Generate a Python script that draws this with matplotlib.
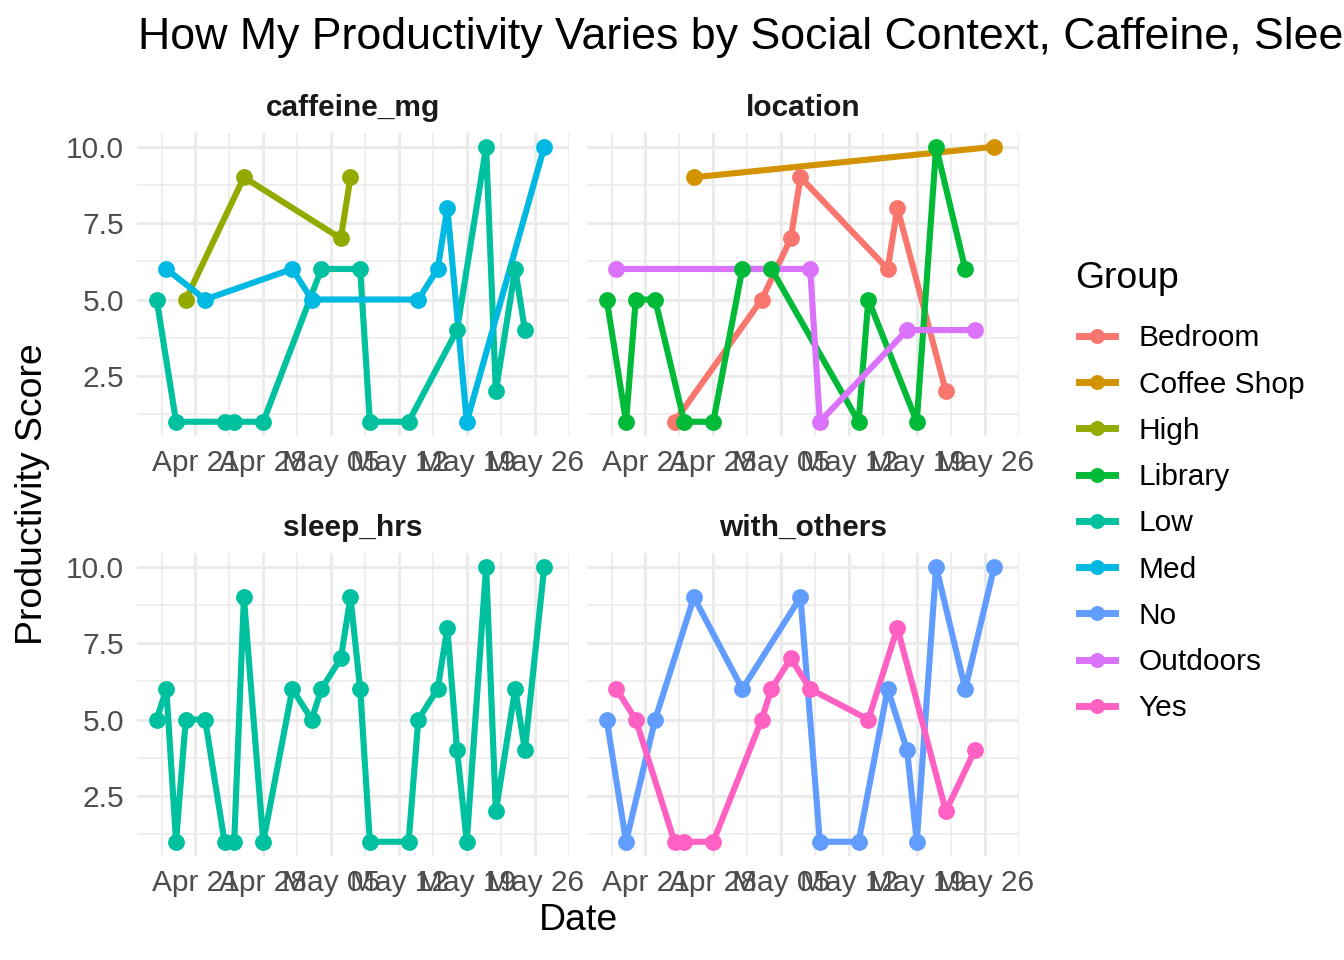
import numpy as np
import pandas as pd
import matplotlib
matplotlib.use("Agg")
import matplotlib.pyplot as plt
import matplotlib.dates as mdates
from matplotlib.lines import Line2D

plt.rcParams['font.family'] = ['Liberation Sans', 'DejaVu Sans']

# day offsets from Apr 17 and the score for each logged day
day_offset = [0, 1, 2, 3, 5, 7, 8, 9, 11, 14, 16, 17, 19, 20, 21, 22, 26, 27, 29, 30, 31, 32, 34, 35, 37, 38, 40]
score = [5, 6, 1, 5, 5, 1, 1, 9, 1, 6, 5, 6, 7, 9, 6, 1, 1, 5, 6, 8, 4, 1, 10, 2, 6, 4, 10]

caffeine = ["Low", "Med", "Low", "High", "Med", "Low", "Low", "High", "Low", "Med", "Med", "Low", "High", "High",
            "Low", "Low", "Low", "Med", "Med", "Med", "Low", "Med", "Low", "Low", "Low", "Low", "Med"]
location = ["Library", "Outdoors", "Library", "Library", "Library", "Bedroom", "Library", "Coffee Shop", "Library",
            "Library", "Bedroom", "Library", "Bedroom", "Bedroom", "Outdoors", "Outdoors", "Library", "Library",
            "Bedroom", "Bedroom", "Outdoors", "Library", "Library", "Bedroom", "Library", "Outdoors", "Coffee Shop"]
with_others = ["No", "Yes", "No", "Yes", "No", "Yes", "Yes", "No", "Yes", "No", "Yes", "Yes", "Yes", "No", "Yes",
               "No", "No", "Yes", "No", "Yes", "No", "No", "No", "Yes", "No", "Yes", "No"]
sleep = ["Low"] * len(score)

groups = ["Bedroom", "Coffee Shop", "High", "Library", "Low", "Med", "No", "Outdoors", "Yes"]
colors = ["#F8766D", "#D39200", "#93AA00", "#00BA38", "#00C19F", "#00B9E3", "#619CFF", "#DB72FB", "#FF61C3"]
cmap = dict(zip(groups, colors))

start = pd.Timestamp("2024-04-17")
dates = [start + pd.Timedelta(days=d) for d in day_offset]

panels = [("caffeine_mg", caffeine), ("location", location), ("sleep_hrs", sleep), ("with_others", with_others)]

W, H = 1344, 960
fig = plt.figure(figsize=(7, 5), dpi=192)

xs = [137.3, 587.3]
ys = [133.0, 553.0]
pw, ph = 431.2, 302.5

majors = [pd.Timestamp("2024-04-21") + pd.Timedelta(days=7 * i) for i in range(6)]
minors = [pd.Timestamp("2024-04-17 12:00") + pd.Timedelta(days=7 * i) for i in range(7)]

for i, (name, cats) in enumerate(panels):
    px = xs[i % 2]
    py = ys[i // 2]
    ax = fig.add_axes([px / W, 1 - (py + ph) / H, pw / W, ph / H])
    df = pd.DataFrame({"date": dates, "score": score, "grp": cats})
    present = [g for g in groups if g in set(cats)]
    for g in present:
        sub = df[df.grp == g]
        ax.plot(sub.date, sub.score, color=cmap[g], lw=2.3, solid_capstyle="butt", zorder=3)
    for g in present:
        sub = df[df.grp == g]
        ax.plot(sub.date, sub.score, "o", color=cmap[g], ms=5.3, zorder=4)

    ax.set_xlim(start - pd.Timedelta(days=2), start + pd.Timedelta(days=42))
    ax.set_ylim(0.55, 10.45)
    ax.set_xticks(majors)
    ax.set_xticks(minors, minor=True)
    ax.xaxis.set_major_formatter(mdates.DateFormatter("%b %d"))
    ax.set_yticks([2.5, 5.0, 7.5, 10.0])
    ax.set_yticks([1.25, 3.75, 6.25, 8.75], minor=True)
    ax.yaxis.set_major_formatter(matplotlib.ticker.FormatStrFormatter("%.1f"))
    ax.grid(which="major", color="#EBEBEB", lw=1.15, zorder=0)
    ax.grid(which="minor", color="#EBEBEB", lw=0.6, zorder=0)
    ax.set_axisbelow(True)
    for s in ax.spines.values():
        s.set_visible(False)
    ax.tick_params(which="both", length=0)
    ax.tick_params(axis="x", labelsize=11.2, labelcolor="#4D4D4D", pad=5)
    ax.tick_params(axis="y", labelsize=11.2, labelcolor="#4D4D4D", pad=5)
    if i % 2 == 1:
        ax.tick_params(axis="y", labelleft=False)
    ax.set_title(name, fontsize=11.2, fontweight="bold", color="#1A1A1A", pad=6.5)

fig.text(138 / W, 1 - 37 / H, "How My Productivity Varies by Social Context, Caffeine, Sleep, and Location",
         fontsize=16.8, ha="left", va="center")
fig.text(33 / W, 1 - 494 / H, "Productivity Score", fontsize=14, rotation=90, ha="center", va="center")
fig.text(578 / W, 1 - 920 / H, "Date", fontsize=14, ha="center", va="center")

# legend
fig.text(1075 / W, 1 - 279 / H, "Group", fontsize=14, ha="left", va="center")
handles = [Line2D([], [], color=cmap[g], lw=2.6, marker="o", ms=4.6) for g in groups]
leg = fig.legend(handles, groups, loc="upper left", bbox_to_anchor=(1079 / W, 1 - 324.5 / H),
                 frameon=False, fontsize=11.2,
                 handlelength=1.2, handletextpad=0.8, labelspacing=0.61, borderpad=0, borderaxespad=0)

fig.savefig("out.png", dpi=192)
